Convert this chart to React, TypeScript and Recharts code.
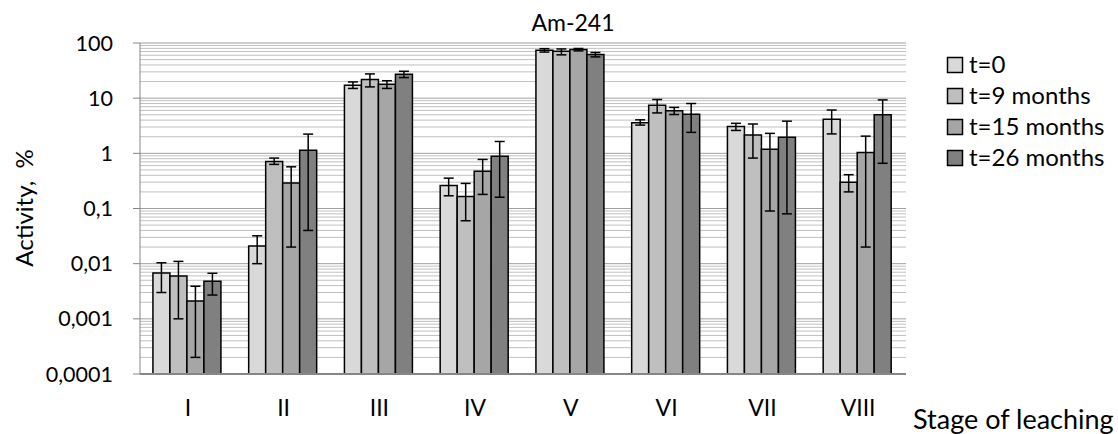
import React from 'react';
import { BarChart, Bar, XAxis, YAxis, CartesianGrid, ErrorBar } from 'recharts';

const stages = ['I', 'II', 'III', 'IV', 'V', 'VI', 'VII', 'VIII'];
const seriesNames = ['t=0', 't=9 months', 't=15 months', 't=26 months'];
const seriesColors = ['#d9d9d9', '#bfbfbf', '#a6a6a6', '#808080'];

const t0 = [0.0068, 0.021, 17.2, 0.26, 74, 3.6, 3.05, 4.15];
const t0Low = [0.003, 0.01, 15, 0.17, 68.5, 3.25, 2.6, 2.25];
const t0High = [0.0104, 0.032, 19.7, 0.355, 79, 4.05, 3.5, 6.1];

const t9 = [0.006, 0.71, 21.8, 0.165, 71, 7.45, 2.15, 0.3];
const t9Low = [0.001, 0.63, 16, 0.06, 61, 5.4, 0.82, 0.2];
const t9High = [0.011, 0.82, 27.5, 0.285, 78, 9.45, 3.4, 0.41];

const t15 = [0.0021, 0.29, 17.9, 0.475, 76, 5.9, 1.19, 1.04];
const t15Low = [0.0002, 0.02, 15, 0.18, 72, 5.05, 0.09, 0.02];
const t15High = [0.0039, 0.57, 20.7, 0.775, 79.5, 6.8, 2.3, 2.05];

const t26 = [0.0048, 1.14, 27.2, 0.89, 62, 5.13, 1.96, 5.0];
const t26Low = [0.0027, 0.04, 23.6, 0.16, 56, 2.4, 0.08, 0.66];
const t26High = [0.0067, 2.23, 30.7, 1.64, 67.3, 8.0, 3.83, 9.3];

const yTicks = [0.0001, 0.001, 0.01, 0.1, 1, 10, 100];
const minorSteps = [2, 3, 4, 5, 6, 7, 8, 9];

const seriesValues = [t0, t9, t15, t26];
const seriesLows = [t0Low, t9Low, t15Low, t26Low];
const seriesHighs = [t0High, t9High, t15High, t26High];

const data = stages.map((stage, i) => {
  const row: Record<string, any> = { stage };
  seriesValues.forEach((vals, s) => {
    row['s' + s] = vals[i];
    row['e' + s] = [vals[i] - seriesLows[s][i], seriesHighs[s][i] - vals[i]];
  });
  return row;
});

const minorValues: number[] = [];
yTicks.slice(0, -1).forEach((d) => minorSteps.forEach((m) => minorValues.push(d * m)));

const FONT = 'Lato, "Open Sans", sans-serif';

const fmt = (v: number) => String(v).replace('.', ',');

const applyScale = (sc: any, v: number): number => {
  if (typeof sc === 'function') return sc(v);
  if (sc && typeof sc.map === 'function') return sc.map(v);
  if (sc && typeof sc.apply === 'function') return sc.apply(v);
  if (sc && typeof sc.scale === 'function') return sc.scale(v);
  const dom = sc.domain();
  const rng = sc.range();
  const t = (Math.log10(v) - Math.log10(dom[0])) / (Math.log10(dom[1]) - Math.log10(dom[0]));
  return rng[0] + t * (rng[1] - rng[0]);
};

const minorGen = (args: any) => {
  const sc = args?.yAxis?.scale;
  if (!sc) return [];
  return minorValues.map((v) => applyScale(sc, v));
};

export default function App() {
  return (
    <div style={{ position: 'absolute', left: 0, top: 0, width: 1118, height: 434, background: '#fff' }}>
      <BarChart
        width={1118}
        height={434}
        data={data}
        margin={{ top: 43, right: 212, bottom: 0, left: 0 }}
        barCategoryGap="13.5%"
        barGap={0}
      >
        <CartesianGrid vertical={false} stroke="#c0c0c0" strokeWidth={1} horizontalCoordinatesGenerator={minorGen} />
        <CartesianGrid vertical={false} stroke="#a0a0a0" strokeWidth={1} />
        <XAxis
          dataKey="stage"
          height={60}
          tickLine={false}
          tickSize={0}
          tickMargin={26}
          axisLine={{ stroke: '#868686', strokeWidth: 2 }}
          tick={{ fill: '#000', fontSize: 23, fontFamily: FONT }}
          interval={0}
        />
        <YAxis
          type="number"
          scale="log"
          domain={[0.0001, 100]}
          ticks={yTicks}
          allowDataOverflow
          width={140}
          tickSize={7}
          tickMargin={20}
          interval={0}
          tickFormatter={fmt}
          tickLine={{ stroke: '#868686' }}
          axisLine={{ stroke: '#868686' }}
          tick={{ fill: '#000', fontSize: 21.5, fontFamily: FONT }}
        />
        {seriesNames.map((name, s) => (
          <Bar
            key={name}
            name={name}
            dataKey={'s' + s}
            fill={seriesColors[s]}
            stroke="#000"
            strokeWidth={1.5}
            isAnimationActive={false}
          >
            <ErrorBar dataKey={'e' + s} direction="y" width={5} stroke="#000" strokeWidth={1.5} />
          </Bar>
        ))}
      </BarChart>
      <svg
        width={1118}
        height={434}
        style={{ position: 'absolute', left: 0, top: 0, pointerEvents: 'none' }}
      >
        <text x={573} y={31} textAnchor="middle" fontFamily={FONT} fontSize={23} fill="#000">
          Am-241
        </text>
        <text
          x={0}
          y={0}
          transform="translate(33 208) rotate(-90)"
          textAnchor="middle"
          fontFamily={FONT}
          fontSize={24}
          fill="#000"
          style={{ whiteSpace: 'pre' }}
        >
          {'Activity,  %'}
        </text>
        <text x={913} y={429} fontFamily={FONT} fontSize={27} fill="#000">
          Stage of leaching
        </text>
        {seriesNames.map((name, s) => (
          <g key={name}>
            <rect
              x={947.5}
              y={57.5 + s * 31}
              width={15}
              height={15}
              fill={seriesColors[s]}
              stroke="#000"
              strokeWidth={1.5}
            />
            <text x={969} y={73 + s * 31} fontFamily={FONT} fontSize={24} fill="#000">
              {name}
            </text>
          </g>
        ))}
      </svg>
    </div>
  );
}
